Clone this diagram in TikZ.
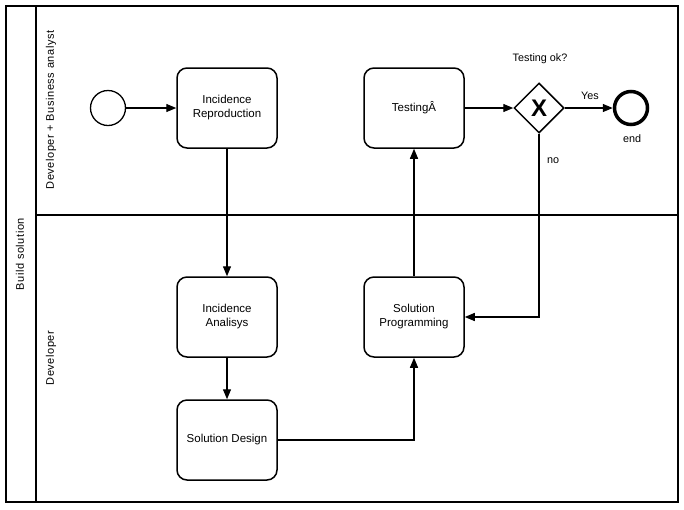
\documentclass[tikz,border=0pt]{standalone}
\usepackage{fontspec}
\setmainfont{Liberation Sans}
\newfontfamily\lanefont[LetterSpace=5]{Liberation Sans}
\usetikzlibrary{arrows.meta,shapes.geometric}
\begin{document}
\begin{tikzpicture}[x=1pt,y=-1pt,
  task/.style={draw,line width=1.5pt,rounded corners=10pt,minimum width=100pt,minimum height=80pt,align=center,font=\fontsize{11.5}{14}\selectfont},
  lbl/.style={font=\fontsize{10.8}{12}\selectfont},
  lanelbl/.style={font=\lanefont\fontsize{11}{12}\selectfont,rotate=90},
  flow/.style={line width=1.3pt,-{Triangle[length=10pt,width=8pt]}},
  frame/.style={line width=1.5pt}]
\useasboundingbox (0,0) rectangle (684,509);
\fill[white] (0,0) rectangle (684,509);
% pool and lanes
\draw[frame] (6,6) rectangle (678,502);
\draw[frame] (36,6) -- (36,502);
\draw[frame] (36,215) -- (678,215);
\node[lanelbl] (pool) at (20,254) {Build solution};
\node[lanelbl] (lane1) at (51,110) {Developer + Business analyst};
\node[lanelbl] (lane2) at (51,358) {Developer};
% nodes
\node[circle,draw,line width=1.3pt,minimum size=35pt,inner sep=0pt] (start) at (108,108) {};
\node[task] (ir) at (227,108) {Incidence\\Reproduction};
\node[task] (test) at (414,108) {TestingÂ};
\node[diamond,draw,line width=1.5pt,minimum width=50pt,minimum height=50pt,inner sep=0pt] (gw) at (539,108) {};
\node[font=\fontsize{24}{24}\selectfont\bfseries] (gwx) at (539,108) {X};
\node[circle,draw,line width=3.5pt,minimum size=33pt,inner sep=0pt] (end) at (631,108) {};
\node[task] (ia) at (227,317) {Incidence\\Analisys};
\node[task] (sp) at (414,317) {Solution\\Programming};
\node[task] (sd) at (227,440) {Solution Design};
% labels
\node[lbl] (ql) at (540,59) {Testing ok?};
\node[lbl] (yes) at (590,96) {Yes};
\node[lbl] (endl) at (632,139) {end};
\node[lbl] (no) at (553,161) {no};
% flows
\draw[flow] (start) -- (ir);
\draw[flow] (ir) -- (ia);
\draw[flow] (ia) -- (sd);
\draw[flow] (sd.east) -| (sp.south);
\draw[flow] (sp) -- (test);
\draw[flow] (test) -- (gw);
\draw[flow] (gw) -- (end);
\draw[flow] (gw.south) |- (sp.east);
\end{tikzpicture}
\end{document}
